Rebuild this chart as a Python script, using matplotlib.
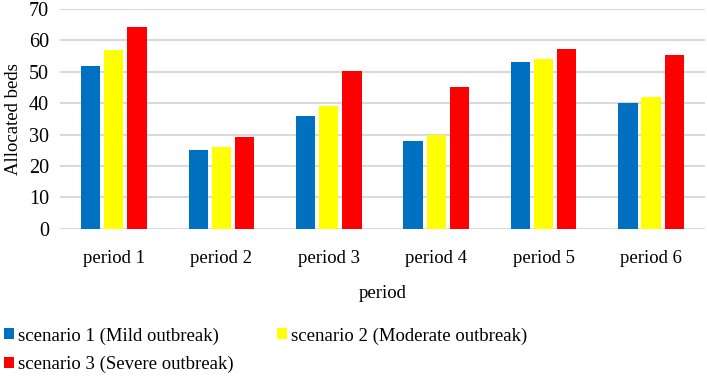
import matplotlib.pyplot as plt
import numpy as np

periods = ['period 1', 'period 2', 'period 3', 'period 4', 'period 5', 'period 6']
scenario_names = ['scenario 1 (Mild outbreak)', 'scenario 2 (Moderate outbreak)',
                  'scenario 3 (Severe outbreak)']
mild = [52, 25, 36, 28, 53, 40]
moderate = [57, 26, 39, 30, 54, 42]
severe = [64.3, 29.3, 50.3, 45.3, 57.3, 55.4]
colors = ['#0070C0', '#FFFF00', '#FF0000']

plt.rcParams['font.family'] = ['Liberation Serif', 'DejaVu Serif']
fs = 13.5

fig = plt.figure(figsize=(7.07, 3.77), dpi=100)
ax = fig.add_axes([0.085, 0.393, 0.912, 0.583])

x = np.arange(len(periods))
width = 0.18
step = 0.215
series = [mild, moderate, severe]
for i, vals in enumerate(series):
    ax.bar(x + (i - 1) * step, vals, width, color=colors[i], label=scenario_names[i], zorder=3)

ax.set_xlim(-0.5, len(periods) - 0.5)
ax.set_ylim(0, 70)
ax.set_yticks(range(0, 71, 10))
ax.set_xticks(x)
ax.set_xticklabels(periods)
ax.yaxis.grid(True, color='#D9D9D9', linewidth=1.5, zorder=0)
for s in ['top', 'right', 'left', 'bottom']:
    ax.spines[s].set_visible(False)
ax.tick_params(axis='both', length=0, labelsize=fs)
ax.tick_params(axis='y', labelsize=14.5)
ax.tick_params(axis='x', pad=15)
ax.tick_params(axis='y', pad=8)
ax.set_ylabel('Allocated beds', fontsize=fs, labelpad=5)
ax.set_xlabel('period', fontsize=fs, labelpad=13)

# row-major order like the original: s1, s2 on first row, s3 below
handles, labels = ax.get_legend_handles_labels()
order = [0, 2, 1]
fig.legend([handles[i] for i in order], [labels[i] for i in order],
           loc='upper left', bbox_to_anchor=(-0.005, 0.152), ncol=2,
           frameon=False, fontsize=fs, handlelength=0.55, handleheight=0.55,
           handletextpad=0.2, columnspacing=2.3, labelspacing=0.6, borderaxespad=0)

fig.savefig('out.png', dpi=100)
